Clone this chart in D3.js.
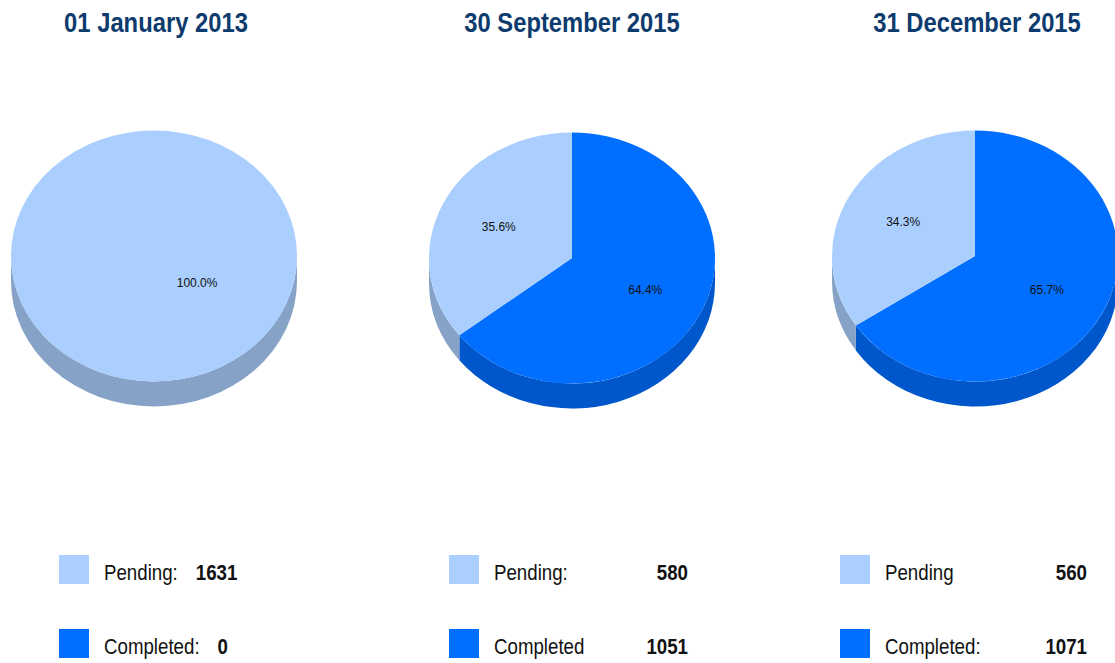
<!DOCTYPE html>
<html>
<head>
<meta charset="utf-8">
<script src="https://cdn.jsdelivr.net/npm/d3@7"></script>
<style>
  body { margin: 0; background: #fff; }
  svg { display: block; }
  .title { font-family: "Liberation Sans", Arial, sans-serif; font-weight: bold; font-size: 28px; fill: #0d3b6e; }
  .leg { font-family: "Liberation Sans", Arial, sans-serif; font-size: 22px; fill: #111; }
  .legval { font-weight: bold; }
  .pct { font-family: "Liberation Sans", Arial, sans-serif; font-size: 12px; fill: #111; }
</style>
</head>
<body>
<div id="chart"></div>
<script>
// the data
let titles = ["01 January 2013", "30 September 2015", "31 December 2015"];
let categories = ["Completed", "Pending"];
let completedValues = [0, 1051, 1071];
let pendingValues = [1631, 580, 560];
let pendingLabels = ["Pending:", "Pending:", "Pending"];
let completedLabels = ["Completed:", "Completed", "Completed:"];

// layout bits (per chart)
let W = 1115, H = 663;
let pieCx = [154, 572, 975];
let pieCy = [256, 258, 256];
let titleX = [156, 572, 977];
let rotation = [-54.5, 0, 0];     // degrees, where the first slice starts
let labelR = [0.37, 0.57, 0.57];
let rx = 143, ry = 125.5, depth = 25;
let legX = [59, 449, 840];
let valueEnd = [null, 688, 1087]; // null -> value follows the label
let narrow = 0.85;                // no Arial Narrow installed, so squeeze Liberation Sans

let topColor = d3.scaleOrdinal().domain(categories).range(["#006fff", "#aacfff"]);
let sideColor = d3.scaleOrdinal().domain(categories).range(["#0057cc", "#86a3c7"]);

let svg = d3.select("#chart").append("svg")
    .attr("width", W)
    .attr("height", H);

// narrow text helper
function narrowText(parent, cls, x, y, anchor, str) {
    return parent.append("text")
        .attr("class", cls)
        .attr("text-anchor", anchor)
        .attr("transform", "translate(" + x + "," + y + ") scale(" + narrow + ",1)")
        .text(str);
}

// point on the ellipse, angle clockwise from 12 o'clock
function pt(cx, cy, a, dy) {
    return [cx + rx * Math.sin(a), cy - ry * Math.cos(a) + (dy || 0)];
}

function topPath(cx, cy, a0, a1) {
    if (a1 - a0 >= 2 * Math.PI - 1e-6) {
        return "M" + (cx - rx) + "," + cy +
            "A" + rx + "," + ry + " 0 1 1 " + (cx + rx) + "," + cy +
            "A" + rx + "," + ry + " 0 1 1 " + (cx - rx) + "," + cy + "Z";
    }
    let p0 = pt(cx, cy, a0), p1 = pt(cx, cy, a1);
    let large = (a1 - a0) > Math.PI ? 1 : 0;
    return "M" + cx + "," + cy + "L" + p0 + "A" + rx + "," + ry + " 0 " + large + " 1 " + p1 + "Z";
}

// only the front half (90deg..270deg) of the wall is visible
function sidePath(cx, cy, a0, a1) {
    let s = Math.max(a0, Math.PI / 2), e = Math.min(a1, 3 * Math.PI / 2);
    if (e <= s) return null;
    let p0 = pt(cx, cy, s), p1 = pt(cx, cy, e);
    let q0 = pt(cx, cy, s, depth), q1 = pt(cx, cy, e, depth);
    return "M" + p0 + "A" + rx + "," + ry + " 0 0 1 " + p1 +
        "L" + q1 + "A" + rx + "," + ry + " 0 0 0 " + q0 + "Z";
}

titles.forEach(function(title, i) {
    let g = svg.append("g");
    let data = [
        {cat: "Completed", value: completedValues[i]},
        {cat: "Pending", value: pendingValues[i]}
    ];
    let total = d3.sum(data, d => d.value);
    let rot = rotation[i] * Math.PI / 180;

    let arcs = d3.pie()
        .sort(null)
        .value(d => d.value)
        .startAngle(rot)
        .endAngle(rot + 2 * Math.PI)(data)
        .filter(d => d.value > 0);

    let cx = pieCx[i], cy = pieCy[i];

    // title
    narrowText(g, "title", titleX[i], 32, "middle", title);

    // walls first
    g.selectAll("path.side")
        .data(arcs)
        .enter()
        .append("path")
        .attr("class", "side")
        .attr("d", d => sidePath(cx, cy, d.startAngle, d.endAngle))
        .attr("fill", d => sideColor(d.data.cat));

    // top faces
    g.selectAll("path.top")
        .data(arcs)
        .enter()
        .append("path")
        .attr("class", "top")
        .attr("d", d => topPath(cx, cy, d.startAngle, d.endAngle))
        .attr("fill", d => topColor(d.data.cat));

    // percent labels
    g.selectAll("text.pct")
        .data(arcs)
        .enter()
        .append("text")
        .attr("class", "pct")
        .attr("text-anchor", "middle")
        .attr("dy", "0.35em")
        .attr("x", d => cx + labelR[i] * rx * Math.sin((d.startAngle + d.endAngle) / 2))
        .attr("y", d => cy - labelR[i] * ry * Math.cos((d.startAngle + d.endAngle) / 2))
        .text(d => (d.value / total * 100).toFixed(1) + "%");

    // legend
    let rows = [
        {cat: "Pending", label: pendingLabels[i], value: pendingValues[i], y: 580, sy: 555},
        {cat: "Completed", label: completedLabels[i], value: completedValues[i], y: 654, sy: 629}
    ];
    rows.forEach(function(r) {
        g.append("rect")
            .attr("x", legX[i])
            .attr("y", r.sy)
            .attr("width", 30)
            .attr("height", 29)
            .attr("fill", topColor(r.cat));
        let lab = narrowText(g, "leg", legX[i] + 45, r.y, "start", r.label);
        if (valueEnd[i] == null) {
            let lx = legX[i] + 45 + lab.node().getComputedTextLength() * narrow + 18;
            narrowText(g, "leg legval", lx, r.y, "start", r.value);
        } else {
            narrowText(g, "leg legval", valueEnd[i], r.y, "end", r.value);
        }
    });
});
</script>
</body>
</html>
